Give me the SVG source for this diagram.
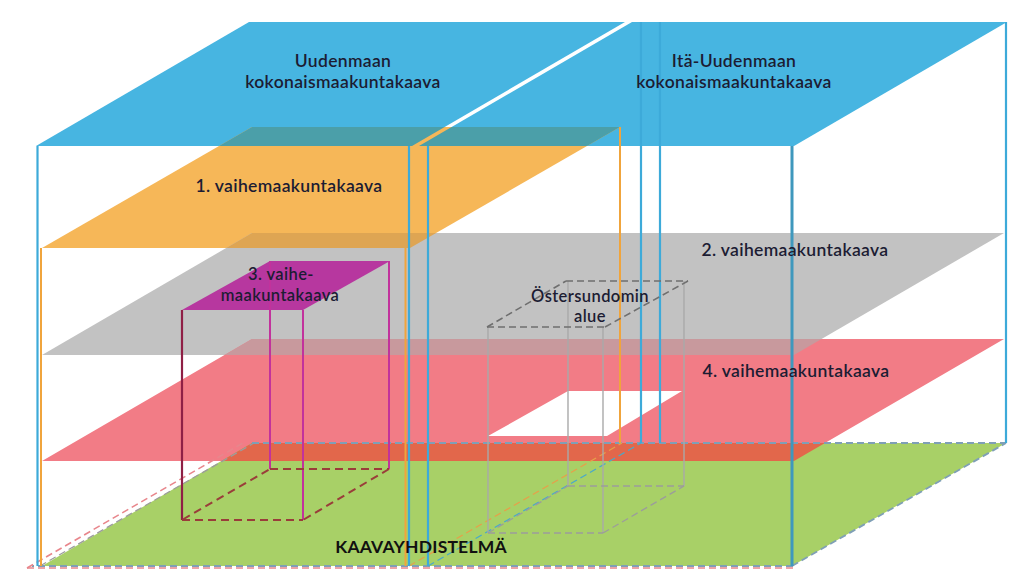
<svg xmlns="http://www.w3.org/2000/svg" width="1024" height="583" viewBox="0 0 1024 583">
<style>
.t{font-family:Lato,"Open Sans","Liberation Sans",sans-serif;font-size:17.5px;font-weight:600;fill:#1c1c33;text-anchor:middle;letter-spacing:0.35px}
.ts{font-family:Lato,"Open Sans","Liberation Sans",sans-serif;font-size:16.5px;font-weight:600;fill:#1c1c33;text-anchor:middle;letter-spacing:0.4px}
.tb{font-family:Lato,"Open Sans","Liberation Sans",sans-serif;font-size:17.5px;font-weight:700;fill:#111;text-anchor:middle;letter-spacing:0.2px}
.bl{stroke:#3daad9;stroke-width:2.2;fill:none}
.bl3{stroke:#3f98bd;stroke-width:3;fill:none}
.or{stroke:#f0a43c;stroke-width:2;fill:none}
.mg{stroke:#c2329c;stroke-width:2;fill:none}
.mgd{stroke:#8f1f45;stroke-width:2.2;fill:none}
.mdash{stroke:#9a3d3a;stroke-width:2;fill:none;stroke-dasharray:8 5}
.gv{stroke:#a9a9a9;stroke-width:1.4;fill:none}
.gd{stroke:#6f6f6f;stroke-width:1.6;fill:none;stroke-dasharray:7 4}
.gdl{stroke:#9c9c9c;stroke-width:1.3;fill:none;stroke-dasharray:7 4}
.pd{stroke:#e8868c;stroke-width:1.6;fill:none;stroke-dasharray:7 4}
.bd{stroke:#7f9fb6;stroke-width:1.8;fill:none;stroke-dasharray:7 4}
.od{stroke:#e6a04a;stroke-width:1.4;fill:none;stroke-dasharray:7 4}
.cd{stroke:#4aa9c9;stroke-width:1.4;fill:none;stroke-dasharray:7 4}
</style>
<defs>
<clipPath id="cBlue"><polygon points="36,146 249,22 625,22 412,146"/><polygon points="419,146 632,22 1007,22 794,146"/></clipPath>
<clipPath id="cOrange"><polygon points="42,248 252,127 620,127 410,248"/></clipPath>
<clipPath id="cPink"><polygon points="42,461 252,339 1004,339 794,461"/></clipPath>
</defs>
<rect width="1024" height="583" fill="#fff"/>

<g id="uudenmaan">
<polygon points="36,146 249,22 625,22 412,146" fill="#47b5e1"/>
</g>
<g id="ita-uudenmaan">
<polygon points="419,146 632,22 1007,22 794,146" fill="#47b5e1"/>
</g>
<g id="vaihe1">
<polygon points="42,248 252,127 620,127 410,248" fill="#f6b758"/>
<polygon points="42,248 252,127 620,127 410,248" fill="#4b9fa9" clip-path="url(#cBlue)"/>
</g>
<g id="vaihe2">
<polygon points="42,355 252,233 1004,233 794,355" fill="#c2c2c2"/>
<polygon points="42,355 252,233 1004,233 794,355" fill="#dea553" clip-path="url(#cOrange)"/>
</g>
<g id="vaihe3">
<polygon points="182,310 270,261 390,261 303,310" fill="#b7379f"/>
</g>
<g id="vaihe4">
<path d="M42,461 L252,339 L1004,339 L794,461 Z M488,436 L607,436 L682,391 L568,391 Z" fill="#f27c86" fill-rule="evenodd"/>
<polygon points="42,355 252,233 1004,233 794,355" fill="#c8999d" clip-path="url(#cPink)"/>
</g>
<g id="kaavayhdistelma">
<polygon points="42,566 252,443 1006,443 792,566" fill="#a8d067"/>
<polygon points="42,566 252,443 1006,443 792,566" fill="#e2674b" clip-path="url(#cPink)"/>
</g>

<g id="connectors">
<line class="pd" x1="27" y1="568" x2="795" y2="568"/>
<line class="bd" x1="32" y1="566" x2="795" y2="566" stroke-dashoffset="5"/>
<line class="pd" x1="27" y1="568" x2="243" y2="443"/>
<line class="gdl" x1="40" y1="566" x2="254" y2="443" stroke="#c8c8c8"/>
<line class="bd" x1="252" y1="443" x2="1006" y2="443"/>
<line class="bd" x1="792" y1="566" x2="1006" y2="443"/>
<line class="od" x1="409" y1="566" x2="622" y2="443"/>
<line class="cd" x1="428" y1="566" x2="641" y2="443"/>
<line class="bl" x1="37.5" y1="146" x2="37.5" y2="566"/>
<line class="bl" x1="409" y1="146" x2="409" y2="566"/>
<line class="bl" x1="428" y1="146" x2="428" y2="566"/>
<line class="bl3" x1="792" y1="146" x2="792" y2="566"/>
<line class="bl" x1="641" y1="22" x2="641" y2="443"/>
<line class="bl" x1="660" y1="22" x2="660" y2="443"/>
<line class="bl" x1="1006" y1="22" x2="1006" y2="443"/>
<line class="or" x1="41" y1="248" x2="41" y2="566"/>
<line class="or" x1="405.5" y1="248" x2="405.5" y2="566"/>
<line class="or" x1="620" y1="127" x2="620" y2="443"/>
<line class="mgd" x1="182" y1="310" x2="182" y2="520"/>
<line class="mg" x1="303" y1="310" x2="303" y2="520"/>
<line class="mg" x1="270" y1="261" x2="270" y2="469"/>
<line class="mg" x1="389" y1="261" x2="389" y2="469"/>
<line class="mdash" x1="182" y1="520" x2="303" y2="520"/>
<line class="mdash" x1="270" y1="469" x2="389" y2="469"/>
<line class="mdash" x1="182" y1="520" x2="270" y2="469" stroke-dashoffset="12"/>
<line class="mdash" x1="303" y1="520" x2="389" y2="469" stroke-dashoffset="12"/>
<line class="gv" x1="488" y1="327" x2="488" y2="533"/>
<line class="gv" x1="568" y1="281" x2="568" y2="486"/>
<line class="gv" x1="603" y1="327" x2="603" y2="533"/>
<line class="gv" x1="684" y1="281" x2="684" y2="486"/>
<line class="gd" x1="566" y1="281" x2="688" y2="281"/>
<line class="gd" x1="487" y1="327" x2="607" y2="327"/>
<line class="gd" x1="487" y1="327" x2="566" y2="281"/>
<line class="gd" x1="605" y1="327" x2="688" y2="281"/>
<line class="gdl" x1="488" y1="533" x2="603" y2="533"/>
<line class="gdl" x1="568" y1="486" x2="684" y2="486"/>
<line class="gdl" x1="488" y1="533" x2="568" y2="486"/>
<line class="gdl" x1="603" y1="533" x2="684" y2="486"/>
</g>

<g id="labels">
<text class="t" x="343" y="67">Uudenmaan</text>
<text class="t" x="343" y="88">kokonaismaakuntakaava</text>
<text class="t" x="734" y="67">Itä-Uudenmaan</text>
<text class="t" x="734" y="88">kokonaismaakuntakaava</text>
<text class="t" x="289" y="192">1. vaihemaakuntakaava</text>
<text class="t" x="795" y="256">2. vaihemaakuntakaava</text>
<text class="ts" x="281" y="280">3. vaihe-</text>
<text class="ts" x="280" y="301">maakuntakaava</text>
<text class="ts" x="590" y="302">Östersundomin</text>
<text class="ts" x="590" y="322">alue</text>
<text class="t" x="796" y="377">4. vaihemaakuntakaava</text>
<text class="tb" x="421" y="553">KAAVAYHDISTELMÄ</text>
</g>
</svg>
